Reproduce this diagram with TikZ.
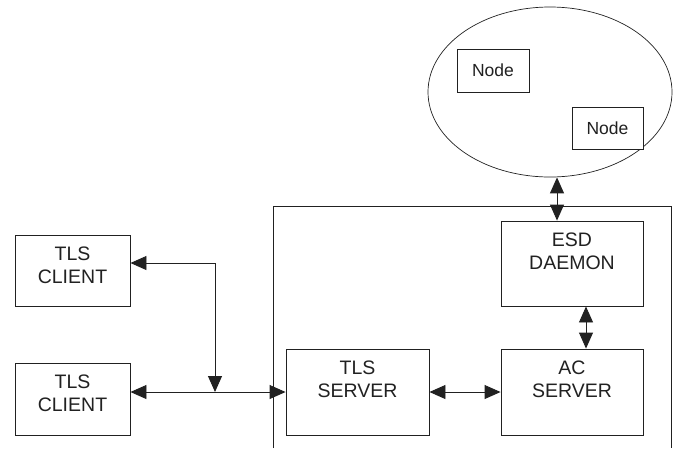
\documentclass[tikz,border=0pt]{standalone}
\usepackage{fontspec}
\setmainfont{Liberation Sans}
\usetikzlibrary{arrows.meta,shapes.geometric,calc}
\definecolor{ink}{gray}{0.13}
\tikzset{
  box/.style={draw=ink, rectangle, inner sep=0pt, line width=0.9pt},
  captext/.style={font=\fontsize{19.5}{22.7}\selectfont, text=ink, align=center, inner sep=0pt},
  small/.style={font=\fontsize{17.5}{20}\selectfont, text=ink},
  link/.style={draw=ink, line width=0.9pt, {Triangle[length=16pt,width=14pt]}-{Triangle[length=16pt,width=14pt]}},
}
\begin{document}
\begin{tikzpicture}[x=1pt,y=-1pt]
\useasboundingbox (0,0) rectangle (676,448);

% host enclosure (open at the bottom edge)
\draw[draw=ink, line width=0.9pt] (273,448) -- (273,206) -- (671,206) -- (671,448);

% cluster of nodes
\node[draw=ink, ellipse, line width=0.7pt, minimum width=244pt, minimum height=170pt, inner sep=0pt] (cloud) at (550,92) {};
\node[box, small, fill=white, minimum width=72pt, minimum height=43pt] (n1) at (493,70.5) {Node};
\node[box, small, fill=white, minimum width=71pt, minimum height=42pt] (n2) at (607.5,128) {Node};

% blocks
\node[box, minimum width=115pt, minimum height=71pt,
      label={[captext, anchor=north, yshift=-12pt]north:TLS\\CLIENT}] (c1) at (72.5,270.5) {};
\node[box, minimum width=115pt, minimum height=72pt,
      label={[captext, anchor=north, yshift=-12pt]north:TLS\\CLIENT}] (c2) at (72.5,399) {};
\node[box, minimum width=143pt, minimum height=86pt,
      label={[captext, anchor=north, yshift=-12pt]north:TLS\\SERVER}] (tls) at (357.5,392) {};
\node[box, minimum width=142pt, minimum height=86pt,
      label={[captext, anchor=north, yshift=-12pt]north:AC\\SERVER}] (ac) at (572,392) {};
\node[box, minimum width=142pt, minimum height=85pt,
      label={[captext, anchor=north, yshift=-12pt]north:ESD\\DAEMON}] (esd) at (572,263.5) {};

% connectors
\coordinate (bend) at (215,263);
\coordinate (join) at (215,392);
\draw[link] (c2.east |- tls.west) -- (tls.west);
\draw[link] (c1.east |- bend) -- (bend) -- (join);
\draw[link] (tls.east) -- (ac.west);
\draw[link] ([xshift=14pt]esd.south) -- ([xshift=14pt]ac.north);
\coordinate (up) at ([xshift=-15pt]esd.north);
\draw[link] (up |- cloud.south) -- (up);
\end{tikzpicture}
\end{document}
